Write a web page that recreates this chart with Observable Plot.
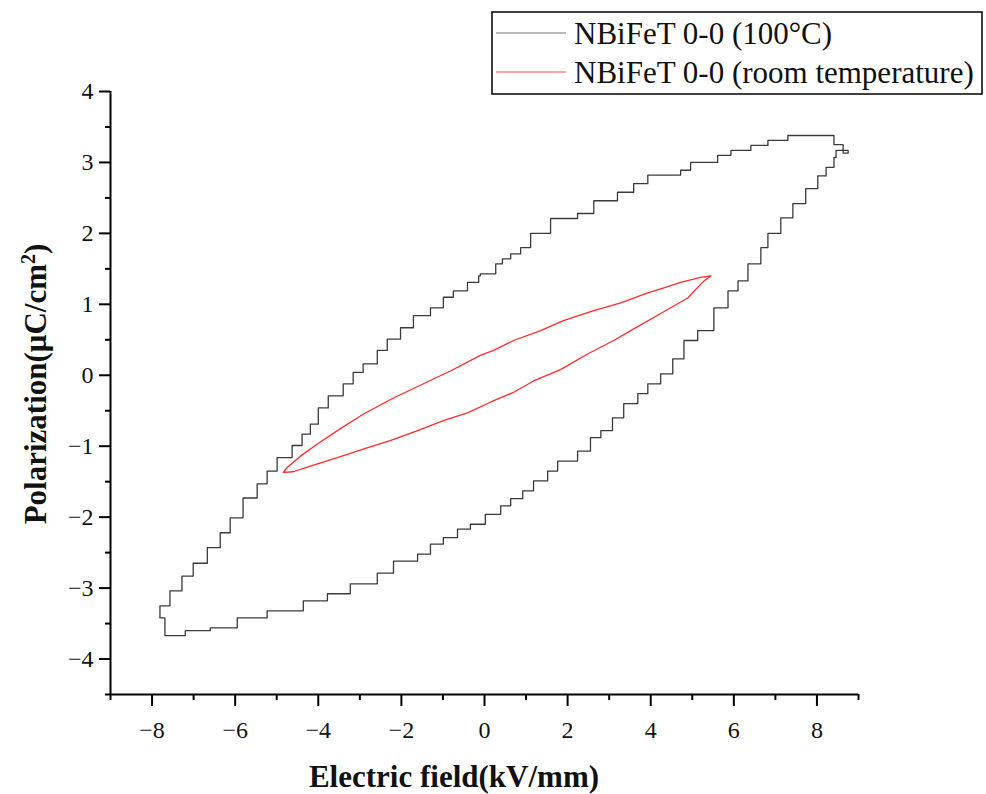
<!DOCTYPE html>
<html><head><meta charset="utf-8">
<script src="https://cdn.jsdelivr.net/npm/d3@7"></script>
<script src="https://cdn.jsdelivr.net/npm/@observablehq/plot@0.6"></script>
<style>
body{margin:0;background:#fff} svg{display:block}
#chart g[aria-label*="tick label"] text, #chart g[aria-label*="tick label"] { font-size: 24px !important; font-family: 'Liberation Serif','Times New Roman',serif !important; }
</style>
</head><body><div id="chart"></div>
<script>
// Series names
const seriesNames = ["NBiFeT 0-0 (100°C)", "NBiFeT 0-0 (room temperature)"];

// 100°C loop: electric field (kV/mm) and polarization (µC/cm²)
const hotE = [8.63,8.41,7.93,7.30,6.82,6.41,5.93,5.61,4.96,4.72,3.93,3.59,3.20,2.63,2.24,1.59,1.11,0.87,0.63,0.43,0.27,-0.10,-0.14,-0.41,-0.75,-0.99,-1.30,-1.71,-2.02,-2.34,-2.58,-2.92,-3.16,-3.40,-3.76,-4.00,-4.19,-4.39,-4.63,-4.99,-5.23,-5.47,-5.81,-6.12,-6.36,-6.67,-7.01,-7.28,-7.57,-7.81,-7.69,-7.69,-7.33,-7.20,
  -6.60,-5.95,-5.23,-4.36,-3.78,-3.23,-2.58,-2.19,-1.61,-1.30,-0.99,-0.65,-0.34,0.02,0.39,0.63,0.92,1.18,1.52,1.76,2.24,2.55,2.80,3.08,3.35,3.69,3.93,4.24,4.53,4.80,5.13,5.52,5.86,6.10,6.34,6.65,6.82,7.13,7.42,7.73,8.02,8.22,8.41,8.46,8.75,8.63];
const hotP = [3.25,3.38,3.38,3.31,3.24,3.17,3.10,3.00,2.89,2.82,2.70,2.58,2.46,2.28,2.21,2.00,1.80,1.71,1.64,1.57,1.43,1.40,1.31,1.19,1.10,0.95,0.84,0.67,0.51,0.35,0.16,0.04,-0.12,-0.29,-0.46,-0.69,-0.83,-0.99,-1.16,-1.35,-1.53,-1.73,-2.01,-2.22,-2.43,-2.65,-2.83,-3.04,-3.25,-3.42,-3.52,-3.67,-3.67,-3.60,
  -3.56,-3.42,-3.32,-3.18,-3.08,-2.94,-2.79,-2.62,-2.52,-2.38,-2.29,-2.17,-2.10,-1.96,-1.84,-1.74,-1.63,-1.49,-1.35,-1.21,-1.07,-0.88,-0.78,-0.60,-0.40,-0.26,-0.12,0.02,0.23,0.49,0.63,0.95,1.19,1.33,1.57,1.80,2.00,2.22,2.42,2.63,2.81,2.93,3.07,3.17,3.13,3.25];

// Room temperature loop
const roomE = [5.45,5.20,4.72,4.30,3.93,3.28,2.63,1.90,1.35,0.70,0.22,-0.10,-0.82,-1.47,-2.19,-2.92,-3.54,-4.02,-4.43,-4.75,-4.84,
  -4.60,-4.19,-3.54,-2.92,-2.27,-1.61,-0.99,-0.41,0.14,0.70,1.18,1.83,2.48,3.11,3.52,4.24,4.89,5.28,5.45];
const roomP = [1.40,1.38,1.31,1.23,1.16,1.02,0.91,0.77,0.63,0.49,0.35,0.28,0.06,-0.12,-0.32,-0.55,-0.78,-0.97,-1.14,-1.30,-1.37,
  -1.36,-1.28,-1.16,-1.04,-0.92,-0.78,-0.64,-0.53,-0.38,-0.24,-0.08,0.08,0.30,0.49,0.63,0.87,1.09,1.33,1.40];

// Tick values
const xTicks = [-8,-6,-4,-2,0,2,4,6,8];
const xMinor = [-9,-7,-5,-3,-1,1,3,5,7,9];
const yTicks = [-4,-3,-2,-1,0,1,2,3,4];
const yMinor = [-4.5,-3.5,-2.5,-1.5,-0.5,0.5,1.5,2.5,3.5];

const hot = hotE.map((e,i)=>({E:e,P:hotP[i]}));
const room = roomE.map((e,i)=>({E:e,P:roomP[i]}));

const serif = "'Liberation Serif','Times New Roman',serif";

const plot = Plot.plot({
  width: 986, height: 794,
  marginLeft: 110, marginRight: 128, marginTop: 91, marginBottom: 100,
  style: {fontFamily: serif, fontSize: "24px", color: "#111", background: "#fff"},
  x: {domain: [-9, 9]},
  y: {domain: [-4.5, 4]},
  marks: [
    Plot.line(hot, {x:"E", y:"P", stroke:"#3a3a3a", strokeWidth:1.3, curve:"step-after"}),
    Plot.line(room, {x:"E", y:"P", stroke:"#ff2a2a", strokeWidth:1.3}),
    Plot.axisX({ticks: xTicks, tickSize: 12, tickPadding: 14, strokeWidth: 2, stroke: "#000", label: null, fontSize: 24}),
    Plot.axisX({ticks: xMinor, tickSize: 6, strokeWidth: 2, stroke: "#000", label: null, tickFormat: () => ""}),
    Plot.axisY({ticks: yTicks, tickSize: 11, tickPadding: 6, strokeWidth: 2, stroke: "#000", label: null, fontSize: 24}),
    Plot.axisY({ticks: yMinor, tickSize: 5, strokeWidth: 2, stroke: "#000", label: null, tickFormat: () => ""}),
    Plot.ruleX([-9], {stroke: "#000", strokeWidth: 2}),
    Plot.ruleY([-4.5], {stroke: "#000", strokeWidth: 2})
  ]
});
document.getElementById("chart").append(plot);

const svg = d3.select("#chart svg");
svg.selectAll("text").attr("font-size", 24).attr("fill", "#111");

// Axis titles
svg.append("text").attr("x", 454).attr("y", 787).attr("text-anchor", "middle")
  .attr("font-family", serif).attr("font-weight", "bold").style("font-size", "31px").attr("fill", "#111")
  .text("Electric field(kV/mm)");
const yt = svg.append("text").attr("transform", "translate(46,384) rotate(-90)").attr("text-anchor", "middle")
  .attr("font-family", serif).attr("font-weight", "bold").style("font-size", "31px").attr("fill", "#111");
yt.append("tspan").text("Polarization(μC/cm");
yt.append("tspan").attr("dy", -11).style("font-size", "20px").text("2");
yt.append("tspan").attr("dy", 11).text(")");

// Legend
const lg = svg.append("g").attr("text-anchor", "start");
lg.append("rect").attr("x", 492).attr("y", 12).attr("width", 490).attr("height", 82)
  .attr("fill", "#fff").attr("stroke", "#000").attr("stroke-width", 1.5);
const colors = ["#777", "#ff4a4a"];
const ys = [33, 72];
seriesNames.forEach((name, i) => {
  lg.append("line").attr("x1", 496).attr("x2", 566).attr("y1", ys[i]).attr("y2", ys[i])
    .attr("stroke", colors[i]).attr("stroke-width", 1.2);
  lg.append("text").attr("x", 574).attr("y", ys[i] + 11).attr("text-anchor", "start").attr("font-family", serif)
    .style("font-size", "31px").attr("fill", "#111").text(name);
});
</script>
</body></html>
